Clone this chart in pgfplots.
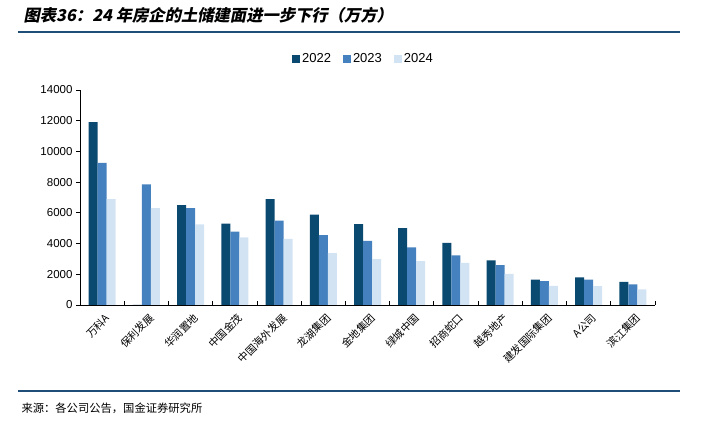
\documentclass[border=0pt]{standalone}
\usepackage{pgfplots}
\pgfplotsset{compat=1.18}
\usepackage{fontspec}
\setmainfont{Liberation Sans}
\newfontfamily\cjk{Noto Sans CJK SC}
\newfontfamily\cjktitle[FakeSlant=0.2]{Noto Sans CJK SC}
\definecolor{c22}{HTML}{0A4A70}
\definecolor{c23}{HTML}{4681BF}
\definecolor{c24}{HTML}{D2E3F3}
\definecolor{rule}{HTML}{1F4E79}
\pgfplotstableread{
x y22 y23 y24
0 11900 9250 6900
1 0 7850 6300
2 6500 6300 5250
3 5300 4780 4400
4 6900 5500 4300
5 5880 4550 3380
6 5270 4170 2980
7 5000 3750 2850
8 4050 3230 2750
9 2900 2600 2030
10 1650 1560 1250
11 1800 1650 1230
12 1500 1340 1020
}\data
\begin{document}
\begin{tikzpicture}[x=1pt,y=1pt]
\path (0,0) rectangle (701,431);
% title
\node[anchor=west,font=\cjktitle\bfseries\fontsize{16.3}{19}\selectfont] at (20,416) {图表36：24 年房企的土储建面进一步下行（万方）};
\draw[rule,line width=1.3pt] (18,399) -- (680,399);
\draw[rule,line width=1.3pt] (18,40) -- (680,40);
\node[anchor=west,font=\cjk\fontsize{11.3}{13}\selectfont] at (18,23) {来源：各公司公告，国金证券研究所};
\begin{axis}[
  at={(80pt,126pt)}, anchor=south west,
  scale only axis, width=575pt, height=215pt,
  ybar=0pt, bar width=9pt,
  xmin=-0.5, xmax=12.5, ymin=0, ymax=14000,
  axis x line*=bottom, axis y line*=left,
  axis line style={line width=0.8pt},
  xtick={0,...,12},
  xticklabels={万科A,保利发展,华润置地,中国金茂,中国海外发展,龙湖集团,金地集团,绿城中国,招商蛇口,越秀地产,建发国际集团,A公司,滨江集团},
  x tick label style={font=\cjk\fontsize{10.5}{12}\selectfont, rotate=45, anchor=north east, inner sep=1pt, yshift=-3pt},
  major x tick style={draw=none},
  minor xtick={-0.5,0.5,...,12.5},
  minor x tick style={black, line width=0.8pt, yshift=4pt},
  minor tick length=4pt,
  ytick={0,2000,...,14000},
  scaled y ticks=false,
  y tick label style={font=\fontsize{11.5}{13}\selectfont},
  /pgf/number format/assume math mode=true,
  /pgf/number format/1000 sep={},
  ytick style={black, line width=0.8pt},
  tick align=outside,
  major tick length=4pt,
  legend style={at={(0.493,1.0)}, anchor=south, yshift=22pt, draw=none, font=\fontsize{13}{15}\selectfont, legend columns=3, /tikz/every even column/.append style={column sep=10pt}},
  legend image code/.code={\fill[#1] (0pt,-4pt) rectangle (8pt,4pt);},
  clip=false,
]
\addplot[fill=c22, draw=none] table[x=x,y=y22] {\data};
\addplot[fill=c23, draw=none] table[x=x,y=y23] {\data};
\addplot[fill=c24, draw=none] table[x=x,y=y24] {\data};
\legend{2022,2023,2024}
\end{axis}
\end{tikzpicture}
\end{document}
